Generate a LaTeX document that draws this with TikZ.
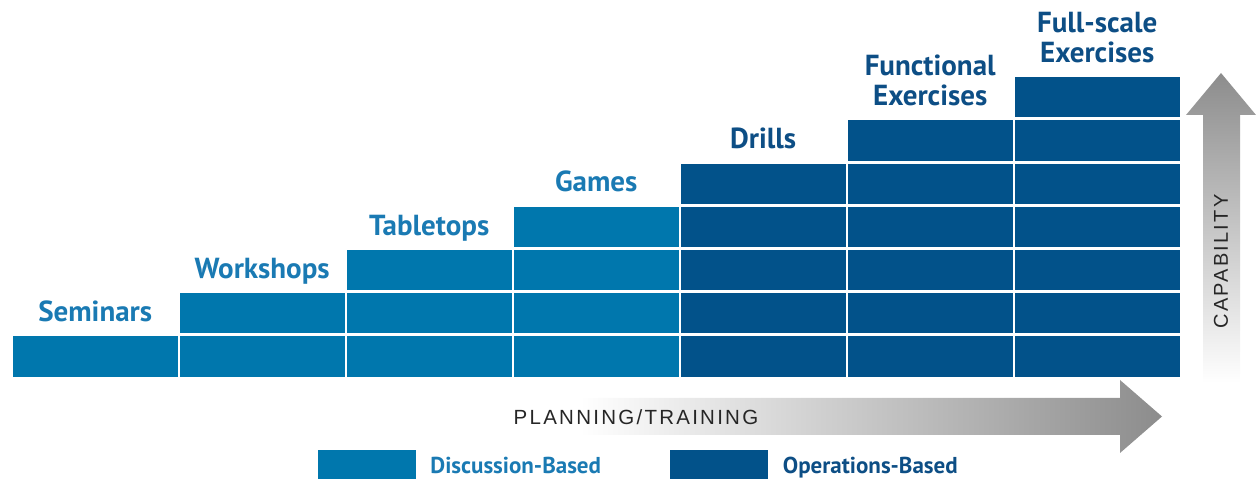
\documentclass[tikz,border=0pt]{standalone}
\usepackage{fontspec}
\usepackage{tikz}
\usetikzlibrary{positioning}
\newfontfamily\lblfont{PT Sans}
\newfontfamily\axisfont[LetterSpace=11]{Liberation Sans}
\definecolor{discblue}{HTML}{0077AD}
\definecolor{operblue}{HTML}{02528A}
\definecolor{disctext}{HTML}{1A7AB3}
\definecolor{opertext}{HTML}{0D4E85}

\begin{document}
\begin{tikzpicture}[x=1pt,y=1pt,
                    block/.style={rectangle,draw=none,inner sep=0pt,
                      minimum width=165.3pt,minimum height=40.2pt},
                    stage/.style={inner sep=0pt,text depth=0pt,align=center,
                      font=\lblfont\bfseries\fontsize{29}{30}\selectfont}]
  \tikzstyle{legbox}=[rectangle,draw=none,inner sep=0pt,minimum width=98pt,minimum height=30pt]
  \tikzstyle{legtext}=[inner sep=0pt,text depth=0pt,font=\lblfont\bfseries\fontsize{23}{26}\selectfont]
  \tikzstyle{axis}=[inner sep=0pt,text=black!85,font=\axisfont\fontsize{20.5}{24}\selectfont]

  \useasboundingbox (0,0) rectangle (1256,479);

  % the steps
  \foreach \c in {0,...,3}
    \foreach \r in {0,...,\c}
      \node[block,fill=discblue] (c\c r\r) at (95.2+167*\c,122.4+43.2*\r) {};
  \foreach \c in {4,...,6}
    \foreach \r in {0,...,\c}
      \node[block,fill=operblue] (c\c r\r) at (95.2+167*\c,122.4+43.2*\r) {};

  \node[stage,text=disctext] (seminars)   [above=14.5pt of c0r0] {Seminars};
  \node[stage,text=disctext] (workshops)  [above=14.5pt of c1r1] {Workshops};
  \node[stage,text=disctext] (tabletops)  [above=14.5pt of c2r2] {Tabletops};
  \node[stage,text=disctext] (games)      [above=14.5pt of c3r3] {Games};
  \node[stage,text=opertext] (drills)     [above=14.5pt of c4r4] {Drills};
  \node[stage,text=opertext] (functional) [above=14.5pt of c5r5] {Functional\\Exercises};
  \node[stage,text=opertext] (fullscale)  [above=14.5pt of c6r6] {Full-scale\\Exercises};

  % the two axes
  \shade[left color=white,right color=black!45]
    (580,44) -- (1120,44) -- (1120,26) -- (1162,62.5) -- (1120,99) -- (1120,81) -- (580,81) -- cycle;
  \shade[bottom color=white,top color=black!45]
    (1203,96) -- (1203,364) -- (1186,364) -- (1221,406) -- (1256,364) -- (1240,364) -- (1240,96) -- cycle;
  \node[axis,anchor=base] (planning) at (636,54) {PLANNING/TRAINING};
  \node[axis,rotate=90,font=\axisfont\fontsize{20}{24}\selectfont] (capability) at (1221,217.5) {CAPABILITY};

  % legend
  \node[legbox,fill=discblue] (legdisc) at (367,14) {};
  \node[legtext,text=disctext,right=14pt of legdisc] (legdisctext) {Discussion-Based};
  \node[legbox,fill=operblue] (legoper) at (718.5,14) {};
  \node[legtext,text=opertext,right=15pt of legoper] (legopertext) {Operations-Based};
\end{tikzpicture}
\end{document}
